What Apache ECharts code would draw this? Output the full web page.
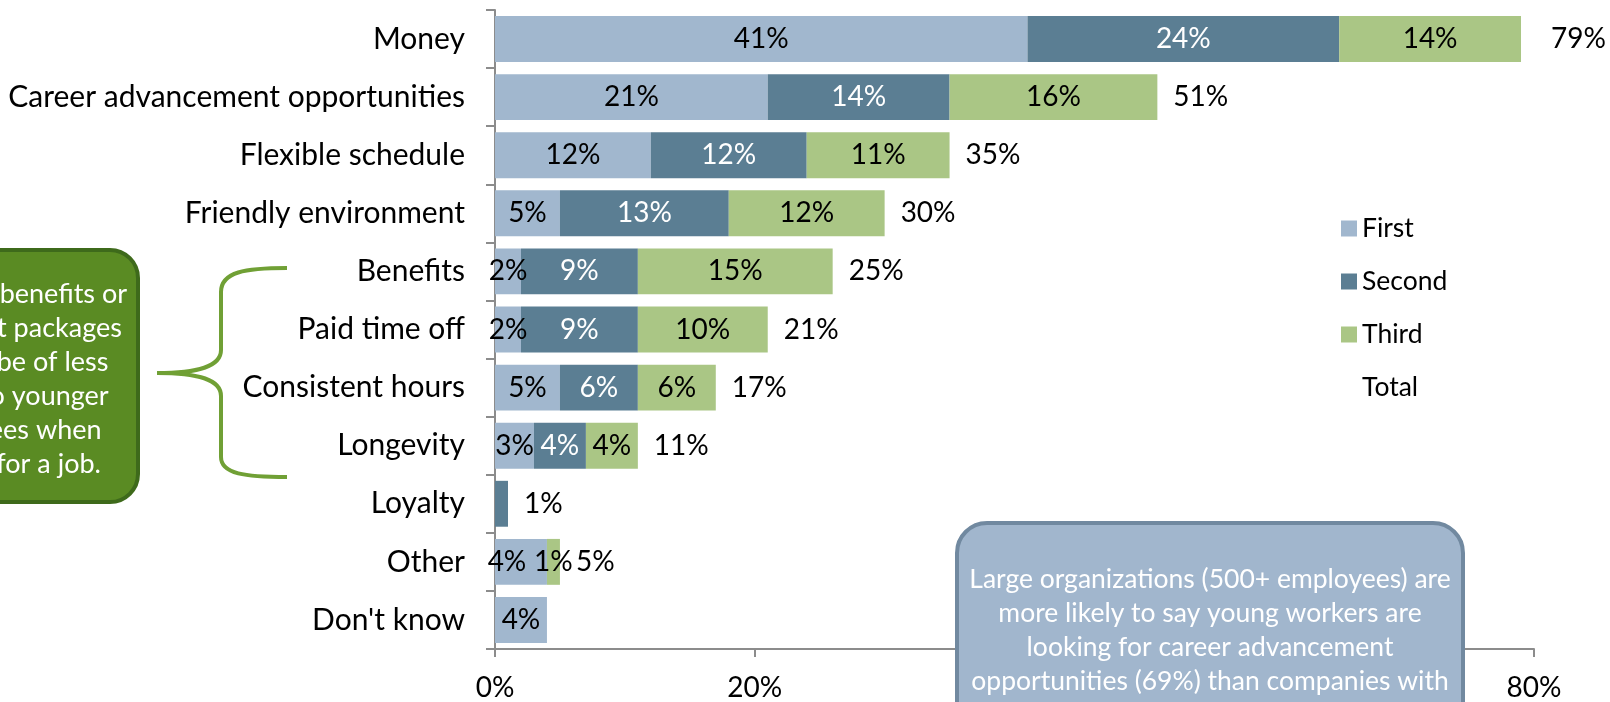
<!DOCTYPE html>
<html>
<head>
<meta charset="utf-8">
<script src="https://cdn.jsdelivr.net/npm/echarts@6/dist/echarts.min.js"></script>
<style>
  html, body { margin: 0; padding: 0; background: #fff; }
  #chart { width: 1610px; height: 702px; }
</style>
</head>
<body>
<div id="chart"></div>
<script>
// categories, top to bottom
var categories = ['Money', 'Career advancement opportunities', 'Flexible schedule', 'Friendly environment',
  'Benefits', 'Paid time off', 'Consistent hours', 'Longevity', 'Loyalty', 'Other', "Don't know"]
var first = [41, 21, 12, 5, 2, 2, 5, 3, 0, 4, 4]
var second = [24, 14, 12, 13, 9, 9, 6, 4, 1, 0, 0]
var third = [14, 16, 11, 12, 15, 10, 6, 4, 0, 1, 0]
var totals = [79, 51, 35, 30, 25, 21, 17, 11, 1, 5, null]
var xTicks = [0, 20, 40, 60, 80]

var FONT = 'Lato'
var LABEL_SIZE = 28
var myChart = echarts.init(document.getElementById('chart'))

function pct(p) {
  return p.value ? p.value + '%' : ''
}

// summed length for the invisible "Total" bar
var stackEnd = first.map(function (v, i) {
  return v + second[i] + third[i]
})

var firstData = first.map(function (v, i) {
  // label nudged left where it would collide with the next one
  if (categories[i] === 'Other') return { value: v, label: { offset: [-14, 0] } }
  return v
})

var secondData = second.map(function (v, i) {
  // no inside label on the tiny Loyalty segment
  if (categories[i] === 'Loyalty') return { value: v, label: { show: false } }
  return v
})

var totalData = stackEnd.map(function (v, i) {
  if (i === 0) return { value: v, label: { distance: 30 } }
  return v
})

var braceStyle = { stroke: '#70a035', lineWidth: 4, fill: null }

myChart.setOption({
  animation: false,
  textStyle: { fontFamily: FONT },
  legend: {
    orient: 'vertical',
    left: 1336,
    top: 208,
    itemWidth: 16,
    itemHeight: 16,
    itemGap: 22,
    icon: 'rect',
    textStyle: { color: '#000', fontSize: 26.5, lineHeight: 31, fontFamily: FONT },
    data: ['First', 'Second', 'Third', 'Total'],
  },
  grid: {
    left: 495,
    top: 10,
    width: 1039,
    height: 639,
    containLabel: false,
  },
  xAxis: {
    type: 'value',
    min: 0,
    max: 80,
    interval: 20,
    axisLine: { show: true, lineStyle: { color: '#8c8c8c', width: 2 } },
    axisTick: { show: true, length: 8, lineStyle: { color: '#8c8c8c', width: 2 } },
    splitLine: { show: false },
    axisLabel: {
      margin: 25,
      color: '#000',
      fontSize: LABEL_SIZE,
      fontFamily: FONT,
      formatter: function (v) {
        return xTicks.indexOf(v) >= 0 ? v + '%' : ''
      },
    },
  },
  yAxis: {
    type: 'category',
    inverse: true,
    data: categories,
    axisLine: { show: true, lineStyle: { color: '#8c8c8c', width: 2 } },
    axisTick: { show: true, length: 9, lineStyle: { color: '#8c8c8c', width: 2 } },
    axisLabel: { margin: 30, color: '#000', fontSize: 30, fontFamily: FONT },
  },
  series: [
    {
      name: 'First',
      type: 'bar',
      stack: 'rank',
      barCategoryGap: '21%',
      itemStyle: { color: '#a1b7ce' },
      label: { show: true, position: 'inside', color: '#000', fontSize: LABEL_SIZE, fontFamily: FONT, formatter: pct },
      data: firstData,
    },
    {
      name: 'Second',
      type: 'bar',
      stack: 'rank',
      itemStyle: { color: '#5b7e93' },
      label: { show: true, position: 'inside', color: '#fff', fontSize: LABEL_SIZE, fontFamily: FONT, formatter: pct },
      data: secondData,
    },
    {
      name: 'Third',
      type: 'bar',
      stack: 'rank',
      itemStyle: { color: '#aac685' },
      label: { show: true, position: 'inside', color: '#000', fontSize: LABEL_SIZE, fontFamily: FONT, formatter: pct },
      data: third,
    },
    {
      name: 'Total',
      type: 'bar',
      barGap: '-100%',
      itemStyle: { color: 'rgba(0,0,0,0)' },
      label: {
        show: true,
        position: 'right',
        distance: 16,
        color: '#000',
        fontSize: LABEL_SIZE,
        fontFamily: FONT,
        formatter: function (p) {
          var t = totals[p.dataIndex]
          return t == null ? '' : t + '%'
        },
      },
      data: totalData,
    },
  ],
  graphic: [
    {
      type: 'rect',
      z: 100,
      shape: { x: -140, y: 250, width: 278, height: 252, r: 28 },
      style: { fill: '#5a8b23', stroke: '#3e6a1b', lineWidth: 4 },
    },
    {
      type: 'text',
      z: 101,
      x: 2,
      y: 277,
      style: {
        text: 'Employee benefits or\nretirement packages\nseem to be of less\nappeal to younger\nemployees when\nlooking for a job.',
        fill: '#fff',
        font: '27px ' + FONT,
        lineHeight: 34,
        align: 'center',
        verticalAlign: 'top',
      },
    },
    // curly brace
    { type: 'bezierCurve', z: 100, shape: { x1: 287, y1: 268, cpx1: 245, cpy1: 268, cpx2: 221, cpy2: 272, x2: 221, y2: 292 }, style: braceStyle },
    { type: 'line', z: 100, shape: { x1: 221, y1: 292, x2: 221, y2: 350 }, style: braceStyle },
    { type: 'bezierCurve', z: 100, shape: { x1: 221, y1: 350, cpx1: 221, cpy1: 366, cpx2: 200, cpy2: 373, x2: 157, y2: 373 }, style: braceStyle },
    { type: 'bezierCurve', z: 100, shape: { x1: 157, y1: 373, cpx1: 200, cpy1: 373, cpx2: 221, cpy2: 380, x2: 221, y2: 396 }, style: braceStyle },
    { type: 'line', z: 100, shape: { x1: 221, y1: 396, x2: 221, y2: 457 }, style: braceStyle },
    { type: 'bezierCurve', z: 100, shape: { x1: 221, y1: 457, cpx1: 221, cpy1: 474, cpx2: 245, cpy2: 477, x2: 287, y2: 477 }, style: braceStyle },
    {
      type: 'rect',
      z: 100,
      shape: { x: 957, y: 523, width: 506, height: 260, r: 30 },
      style: { fill: '#a1b6cd', stroke: '#7189a0', lineWidth: 4 },
    },
    {
      type: 'text',
      z: 101,
      x: 1210,
      y: 562,
      style: {
        text: 'Large organizations (500+ employees) are\nmore likely to say young workers are\nlooking for career advancement\nopportunities (69%) than companies with',
        fill: '#fff',
        font: '26.5px ' + FONT,
        lineHeight: 34,
        align: 'center',
        verticalAlign: 'top',
      },
    },
  ],
})
</script>
</body>
</html>
